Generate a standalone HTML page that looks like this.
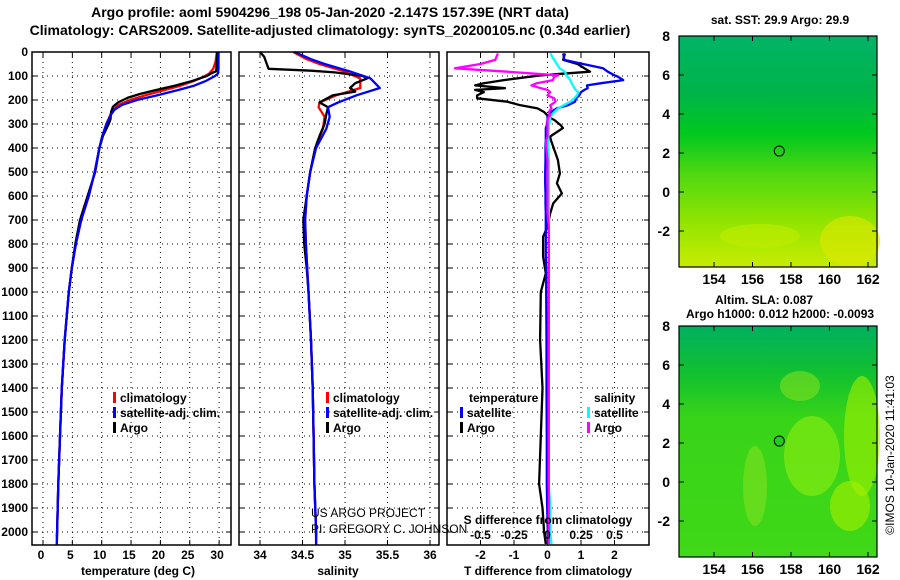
<!DOCTYPE html>
<html><head><meta charset="utf-8"><style>
body{margin:0;background:#fff;width:900px;height:580px;overflow:hidden}
svg{display:block;font-family:"Liberation Sans",sans-serif}
.b{font-weight:bold;font-size:12px}
.n{font-weight:normal;font-size:12px}
.t{font-weight:bold;font-size:14px}
</style></head><body>
<svg id="s" width="900" height="580">
<defs>
<linearGradient id="g1" x1="0" y1="0" x2="0" y2="1">
<stop offset="0" stop-color="#00b468"/><stop offset="0.25" stop-color="#00b448"/><stop offset="0.42" stop-color="#00c820"/><stop offset="0.6" stop-color="#50d810"/><stop offset="0.8" stop-color="#90e400"/><stop offset="1" stop-color="#c8ec00"/></linearGradient>
<linearGradient id="g2" x1="0" y1="0" x2="0" y2="1">
<stop offset="0" stop-color="#00b060"/><stop offset="0.2" stop-color="#10c030"/><stop offset="0.4" stop-color="#38d418"/><stop offset="1" stop-color="#40d818"/></linearGradient>
</defs>
<text class="t" x="330" y="17" text-anchor="middle">Argo profile: aoml 5904296_198 05-Jan-2020 -2.147S 157.39E (NRT data)</text>
<text class="t" x="330" y="35" text-anchor="middle">Climatology: CARS2009. Satellite-adjusted climatology: synTS_20200105.nc (0.34d earlier)</text>
<g id="root"></g>
</svg>
<script>
// ---- data ----
const tDepthArgo=[0,40,80,90,100,120,140,160,175,190,210,228,250,280,300,350,400,500,600,700,800,900,1000,1200,1400,1600,1800,2000,2020];
const tArgo=[29.7,29.6,29.5,28.6,27.9,25.5,22.5,19,16.5,14.5,12.8,11.9,11.6,11.5,11.2,10.2,9.6,8.9,7.6,6.3,5.5,4.9,4.4,3.7,3.2,2.9,2.6,2.4,2.35];
const tDepthClim=[0,40,70,90,100,120,140,160,180,200,220,240,260,300,350,400,500,600,700,800,900,1000,1200,1400,1600,1800,2000,2054];
const tClim=[29.6,29.4,29.0,28.3,27.6,25.8,23.5,20.5,17.5,14.8,12.9,12,11.5,10.8,10.1,9.6,8.8,7.8,6.5,5.6,4.9,4.4,3.7,3.2,2.9,2.6,2.4,2.35];
const tSat=[29.9,29.9,29.9,29.8,29.3,27.8,25.8,22.8,19.5,16,13.5,12.2,11.6,10.8,10.1,9.6,8.8,7.8,6.5,5.6,4.9,4.4,3.7,3.2,2.9,2.6,2.4,2.35];
const sDepthArgo=[0,20,50,70,78,85,100,110,130,150,165,180,210,230,260,300,350,400,500,600,700,800,900,1000,1200,1400,1600,1800,2000,2020];
const sArgo=[34.0,34.05,34.08,34.1,34.6,34.88,35.21,35.26,35.12,35.06,35.12,34.86,34.7,34.8,34.78,34.76,34.7,34.65,34.59,34.55,34.51,34.52,34.55,34.57,34.6,34.62,34.63,34.64,34.66,34.66];
const sDepthClim=[0,30,50,80,110,150,180,210,230,270,320,400,500,600,700,800,1000,1200,1400,1600,1800,2000,2054];
const sClim=[34.39,34.55,34.7,34.98,35.18,35.18,34.9,34.7,34.69,34.76,34.74,34.65,34.59,34.55,34.53,34.54,34.57,34.6,34.62,34.63,34.64,34.66,34.66];
const sSat=[34.41,34.6,34.76,35.05,35.3,35.41,35.14,34.92,34.8,34.82,34.78,34.66,34.59,34.55,34.53,34.54,34.57,34.6,34.62,34.63,34.64,34.66,34.66];
const dDepth=[6,33,50,68,82,97,103,117,130,139,151,158,167,181,193,207,222,235,250,264,269,283,306,317,352,367,394,450,506,547,589,631,672,728,770,853,922,1000,1200,1400,1600,1800,1900,2000,2050];
const dTArgo=[0.52,0.47,0.9,1.1,1.27,-0.2,-0.52,-1.3,-1.9,-2.16,-1.27,-2.16,-1.9,-2.1,-2.1,-1.2,-0.8,-0.3,-0.1,0,0,0.2,0.4,0.46,0.08,0.1,0.17,0.31,0.37,0.28,0.43,0.17,0.08,0,-0.13,-0.13,-0.05,-0.2,-0.22,-0.15,-0.2,-0.25,-0.15,-0.1,-0.05];
const dTSat=[0.47,0.5,1.06,1.66,1.8,2.0,2.1,2.26,1.6,1.18,1.2,1.1,1.0,0.95,0.85,0.82,0.6,0.28,0.1,0.05,0,0,-0.02,-0.05,-0.05,-0.05,-0.06,-0.06,-0.07,-0.07,-0.06,-0.06,-0.05,-0.05,-0.05,-0.05,-0.04,-0.04,-0.03,-0.03,-0.02,-0.02,-0.01,0.01,0.01];
const dSSat=[0.02,0.05,0.07,0.09,0.13,0.14,0.15,0.17,0.18,0.19,0.2,0.21,0.23,0.22,0.2,0.17,0.12,0.08,0.05,0.03,0.02,0.02,0.01,0.01,0.005,0.005,0.005,0.01,0.01,0.01,0.01,0.01,0.01,0.01,0.01,0.01,0.01,0.01,0.01,0.01,0.01,0.01,0.02,0.02,0.03];
const dSArgo=[-0.37,-0.39,-0.5,-0.69,-0.3,0.08,0.05,0.04,-0.08,-0.12,-0.05,0.0,0.02,0.0,0.05,0.06,0.02,0.03,0.01,0.02,0.01,0.0,0.0,0.0,0.0,-0.01,-0.01,0,0,0,0,0,0,0.01,0.01,0.01,0.01,0.01,0.01,0.01,0.01,0.01,0.01,0.01,0.01];
const depthTicks=[0,100,200,300,400,500,600,700,800,900,1000,1100,1200,1300,1400,1500,1600,1700,1800,1900,2000];
const tTicks=[0,5,10,15,20,25,30];
const sTicks=[34,34.5,35,35.5,36];
const dTTicks=[-2,-1,0,1,2];
const dSTicks=[-0.5,-0.25,0,0.25,0.5];
const lonTicks=[154,156,158,160,162];
const latTicks=[8,6,4,2,0,-2];
const floatLon=157.39, floatLat=2.1;
// ---- scales ----
const Y0=52,H=493,yD=d=>Y0+d*0.24;
const xT=v=>43+v*5.87, xS=v=>260+(v-34)*85, xDT=v=>547.5+v*33.5, xDS=v=>547.5+v*134;
const mx=l=>714+(l-154)*19.25;
const NS="http://www.w3.org/2000/svg", root=document.getElementById('root');
function el(tag,attrs,parent){const e=document.createElementNS(NS,tag);for(const k in attrs)e.setAttribute(k,attrs[k]);(parent||root).appendChild(e);return e;}
function txt(x,y,s,cls,anchor,parent){const e=el('text',{x:x,y:y,'class':cls,'text-anchor':anchor||'start'},parent);e.textContent=s;return e;}
function line(xs,ds,fx,col,w,name,g){const pts=xs.map((v,i)=>fx(v).toFixed(1)+','+yD(ds[i]).toFixed(1)).join(' ');const p=el('polyline',{points:pts,fill:'none',stroke:col,'stroke-width':w||2.5,'stroke-linejoin':'round'},g);

return p;}
function panel(x0,x1,ticks,fx,name){
 const g=el('g',{});
 
 
 depthTicks.forEach(d=>{const y=yD(d);el('line',{x1:x0,x2:x1,y1:y,y2:y,stroke:'#000','stroke-width':1,'stroke-dasharray':'1,4'},g);el('line',{x1:x0,x2:x0+5,y1:y,y2:y,stroke:'#000'},g);el('line',{x1:x1-5,x2:x1,y1:y,y2:y,stroke:'#000'},g);});
 ticks.forEach(v=>{const x=fx(v);el('line',{x1:x,x2:x,y1:Y0,y2:Y0+H,stroke:'#000','stroke-width':1,'stroke-dasharray':'1,4'},g);el('line',{x1:x,x2:x,y1:Y0,y2:Y0+5,stroke:'#000'},g);el('line',{x1:x,x2:x,y1:Y0+H-5,y2:Y0+H,stroke:'#000'},g);});
 return g;}
function frame(x0,x1,g){el('rect',{x:x0,y:Y0,width:x1-x0,height:H,fill:'none',stroke:'#000','stroke-width':1.5},g);}
// panel 1
let g1=panel(32,231,tTicks,xT,'temperature-panel');
line(tClim,tDepthClim,xT,'#f00',2.3,'temp-climatology-line',g1);
line(tArgo,tDepthArgo,xT,'#000',2.3,'temp-argo-line',g1);
line(tSat,tDepthClim,xT,'#00f',2.3,'temp-satellite-line',g1);
frame(32,231,g1);
depthTicks.forEach(d=>{const t=txt(28,yD(d)+4,String(d),'b','end');});
tTicks.forEach(v=>{const t=txt(xT(v)-2,559,String(v),'b','middle');});
txt(138,575,'temperature (deg C)','b','middle');
// panel 2
let g2=panel(239,439,sTicks,xS,'salinity-panel');
line(sClim,sDepthClim,xS,'#f00',2.3,'sal-climatology-line',g2);
line(sArgo,sDepthArgo,xS,'#000',2.3,'sal-argo-line',g2);
line(sSat,sDepthClim,xS,'#00f',2.3,'sal-satellite-line',g2);
frame(239,439,g2);
sTicks.forEach(v=>{const t=txt(xS(v),559,String(v),'b','middle');});
txt(338,575,'salinity','b','middle');
// panel 3
let g3=panel(447,649,dTTicks,xDT,'difference-panel');
line(dTArgo,dDepth,xDT,'#000',2.3,'dT-argo-line',g3);
line(dTSat,dDepth,xDT,'#00f',2.3,'dT-satellite-line',g3);
line(dSSat,dDepth,xDS,'#0ff',2.3,'dS-satellite-line',g3);
line(dSArgo,dDepth,xDS,'#f0f',2.3,'dS-argo-line',g3);
frame(447,649,g3);
dTTicks.forEach(v=>{const t=txt(xDT(v),559,String(v),'b','middle');});
dSTicks.forEach(v=>{const t=txt(xDS(v),539,String(v),'b','middle');});
txt(548,575,'T difference from climatology','b','middle');
txt(548,524,'S difference from climatology','b','middle');
// legends
function leg(x,y,col,label,name){const g=el('g',{});


el('rect',{x:x,y:y-10,width:3,height:11,fill:col},g);txt(x+7,y,label,'b','start',g);}
leg(113,402,'#f00','climatology','legend-climatology');
leg(113,417,'#00f','satellite-adj. clim.','legend-satellite-adj');
leg(113,432,'#000','Argo','legend-argo');
leg(326,402,'#f00','climatology','legend-sal-climatology');
leg(326,417,'#00f','satellite-adj. clim.','legend-sal-satellite-adj');
leg(326,432,'#000','Argo','legend-sal-argo');
txt(469,402,'temperature','b','start');
leg(460,417,'#00f','satellite','legend-dT-satellite');
leg(460,432,'#000','Argo','legend-dT-argo');
txt(594,402,'salinity','b','start');
leg(587,417,'#0ff','satellite','legend-dS-satellite');
leg(587,432,'#f0f','Argo','legend-dS-argo');
let c1=txt(311,517,'US ARGO PROJECT','n','start');
let c2=txt(311,533,'PI: GREGORY C. JOHNSON','n','start');
// maps
function map(top,grad,name,blobs){const g=el('g',{});


el('rect',{x:679,y:top,width:198,height:231,fill:'url(#'+grad+')'},g);
blobs.forEach(b=>el('ellipse',{cx:b[0],cy:b[1]+top,rx:b[2],ry:b[3],fill:b[4],opacity:0.6},g));
el('rect',{x:679,y:top,width:198,height:231,fill:'none',stroke:'#000','stroke-width':1.2},g);
const my=l=>top+(8-l)*19.5;
latTicks.forEach(l=>{el('line',{x1:679,x2:684,y1:my(l),y2:my(l),stroke:'#000'},g);el('line',{x1:872,x2:877,y1:my(l),y2:my(l),stroke:'#000'},g);txt(670,my(l)+5,String(l),'t','end',g);});
lonTicks.forEach(l=>{el('line',{x1:mx(l),x2:mx(l),y1:top,y2:top+5,stroke:'#000'},g);el('line',{x1:mx(l),x2:mx(l),y1:top+226,y2:top+231,stroke:'#000'},g);txt(mx(l),top+248,String(l),'t','middle',g);});
const m=el('circle',{cx:mx(floatLon),cy:my(floatLat),r:5,fill:grad=='g2'?'#20cc20':'none',stroke:'#000','stroke-width':1},g);


return g;}
map(36,'g1','sst-map',[[850,205,30,25,'#e0e800'],[760,200,40,12,'#c0ec00']]);
map(326,'g2','sla-map',[[862,110,18,60,'#a0f000'],[812,130,28,40,'#90ec10'],[755,160,12,40,'#80e020'],[850,180,20,25,'#a8f000'],[800,60,20,15,'#80e020']]);
let m1=txt(780,24,'sat. SST: 29.9 Argo: 29.9','b','middle');
let m2=txt(764,304,'Altim. SLA: 0.087','b','middle');
let m3=txt(780,318,'Argo h1000: 0.012 h2000: -0.0093','b','middle');
let r=txt(0,0,'©IMOS 10-Jan-2020 11:41:03','n','middle');r.setAttribute('font-size','13');r.setAttribute('transform','translate(894,455) rotate(-90)');
</script>
</body></html>
